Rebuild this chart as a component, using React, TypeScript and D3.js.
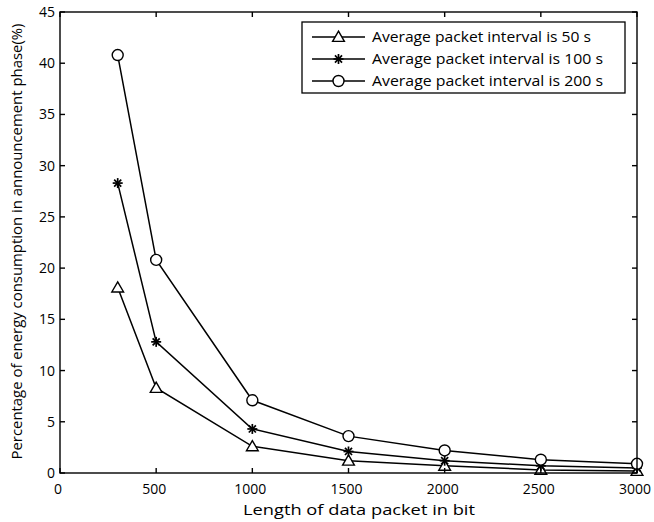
import React, { useEffect, useRef } from "react";
import * as d3 from "d3";

const packetLengths = [300, 500, 1000, 1500, 2000, 2500, 3000];
const interval50 = [18.1, 8.3, 2.6, 1.2, 0.7, 0.3, 0.2];
const interval100 = [28.3, 12.8, 4.3, 2.1, 1.2, 0.7, 0.5];
const interval200 = [40.8, 20.8, 7.1, 3.6, 2.2, 1.3, 0.9];
const seriesNames = [
  "Average packet interval is 50 s",
  "Average packet interval is 100 s",
  "Average packet interval is 200 s",
];
const seriesMarkers = ["triangle", "star", "circle"];
const xTicks = [0, 500, 1000, 1500, 2000, 2500, 3000];
const yTicks = [0, 5, 10, 15, 20, 25, 30, 35, 40, 45];

const W = 654, H = 522;
const margin = { left: 60, right: 17, top: 12, bottom: 49 };
const font = "'Open Sans', sans-serif";
// the scanned figure's lettering is wider than Open Sans, stretch to fit
const legendTextWidths = [219, 231, 231];

const drawMarker = (g, type, x, y) => {
  if (type === "triangle") {
    const tri = d3.symbol().type(d3.symbolTriangle).size(60);
    g.append("path").attr("d", tri()).attr("transform", `translate(${x},${y + 1})`)
      .attr("fill", "white").attr("stroke", "black").attr("stroke-width", 1.4);
  } else if (type === "circle") {
    g.append("circle").attr("cx", x).attr("cy", y).attr("r", 5.5)
      .attr("fill", "white").attr("stroke", "black").attr("stroke-width", 1.4);
  } else {
    const r = 5;
    for (let i = 0; i < 4; i++) {
      const a = (i * Math.PI) / 4;
      g.append("line")
        .attr("x1", x - r * Math.cos(a)).attr("y1", y - r * Math.sin(a))
        .attr("x2", x + r * Math.cos(a)).attr("y2", y + r * Math.sin(a))
        .attr("stroke", "black").attr("stroke-width", 1.7);
    }
  }
};

const App = () => {
  const ref = useRef(null);

  useEffect(() => {
    const svg = d3.select(ref.current);
    svg.selectAll("*").remove();

    const x = d3.scaleLinear().domain([0, 3000]).range([margin.left, W - margin.right]);
    const y = d3.scaleLinear().domain([0, 45]).range([H - margin.bottom, margin.top]);
    const [x0, x1] = x.range();
    const [y0, y1] = y.range();

    svg.append("rect").attr("width", W).attr("height", H).attr("fill", "white");

    const data = [interval50, interval100, interval200];
    const line = d3.line().x(d => x(d[0])).y(d => y(d[1]));

    // lines
    data.forEach(vals => {
      svg.append("path")
        .datum(packetLengths.map((p, i) => [p, vals[i]]))
        .attr("d", line).attr("fill", "none")
        .attr("stroke", "black").attr("stroke-width", 1.5);
    });
    data.forEach((vals, s) => {
      const g = svg.append("g");
      packetLengths.forEach((p, i) => drawMarker(g, seriesMarkers[s], x(p), y(vals[i])));
    });

    // frame + ticks (matlab-style, inward, all sides)
    const ax = svg.append("g").attr("stroke", "black").attr("stroke-width", 1.4);
    ax.append("rect").attr("x", x0).attr("y", y1).attr("width", x1 - x0).attr("height", y0 - y1)
      .attr("fill", "none");
    xTicks.forEach(t => {
      ax.append("line").attr("x1", x(t)).attr("x2", x(t)).attr("y1", y0).attr("y2", y0 - 5);
      ax.append("line").attr("x1", x(t)).attr("x2", x(t)).attr("y1", y1).attr("y2", y1 + 5);
    });
    yTicks.forEach(t => {
      ax.append("line").attr("x1", x0).attr("x2", x0 + 5).attr("y1", y(t)).attr("y2", y(t));
      ax.append("line").attr("x1", x1).attr("x2", x1 - 5).attr("y1", y(t)).attr("y2", y(t));
    });

    svg.selectAll(".xt").data(xTicks).enter().append("text")
      .attr("x", d => x(d) - 2).attr("y", y0 + 21)
      .attr("text-anchor", "middle").attr("font-family", font).attr("font-size", 14)
      .text(d => d);
    svg.selectAll(".yt").data(yTicks).enter().append("text")
      .attr("x", x0 - 5).attr("y", d => y(d) + 5)
      .attr("text-anchor", "end").attr("font-family", font).attr("font-size", 14)
      .text(d => d);

    svg.append("text").attr("x", 359).attr("y", H - 7)
      .attr("text-anchor", "middle").attr("font-family", font).attr("font-size", 15)
      .attr("textLength", 232).attr("lengthAdjust", "spacingAndGlyphs")
      .text("Length of data packet in bit");
    svg.append("text")
      .attr("transform", `translate(22,${(y0 + y1) / 2 - 1}) rotate(-90)`)
      .attr("text-anchor", "middle").attr("font-family", font).attr("font-size", 14.5)
      .attr("textLength", 436).attr("lengthAdjust", "spacingAndGlyphs")
      .text("Percentage of energy consumption in announcement phase(%)");

    // legend
    const lg = svg.append("g");
    lg.append("rect").attr("x", 302).attr("y", 22).attr("width", 323).attr("height", 71)
      .attr("fill", "white").attr("stroke", "black").attr("stroke-width", 1.3);
    seriesNames.forEach((name, i) => {
      const ly = 37 + i * 22;
      lg.append("line").attr("x1", 312).attr("x2", 365).attr("y1", ly).attr("y2", ly)
        .attr("stroke", "black").attr("stroke-width", 1.5);
      drawMarker(lg, seriesMarkers[i], 338.5, ly);
      lg.append("text").attr("x", 372).attr("y", ly + 5)
        .attr("font-family", font).attr("font-size", 14.5)
        .attr("textLength", legendTextWidths[i]).attr("lengthAdjust", "spacingAndGlyphs")
        .text(name);
    });
  }, []);

  return (
    <svg ref={ref} width={W} height={H} style={{ position: "absolute", left: 0, top: 0 }} />
  );
};

export default App;
